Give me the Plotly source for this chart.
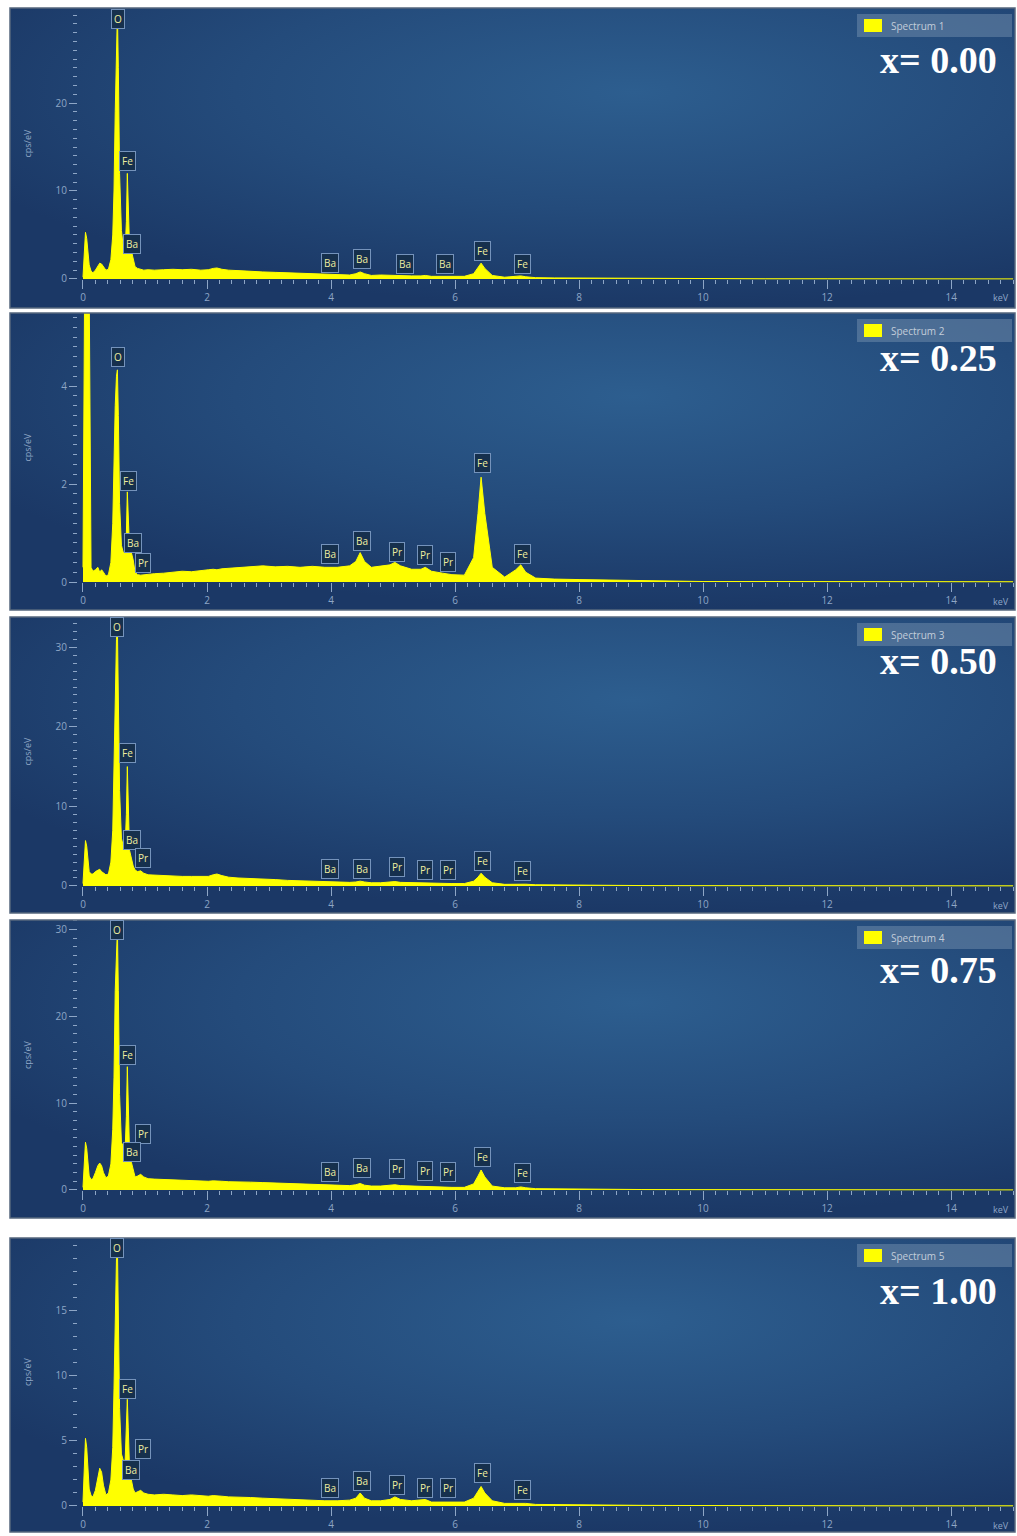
import base64
import plotly.graph_objects as go

W, H = 1017, 1536

# ---------------- data ----------------
energy_keV = [
    0.00, 0.02, 0.04, 0.06, 0.08, 0.10, 0.13, 0.16, 0.20, 0.24,
    0.27, 0.30, 0.33, 0.37, 0.41, 0.45, 0.48, 0.50, 0.52, 0.54,
    0.555, 0.57, 0.59, 0.62, 0.65, 0.68, 0.70, 0.715, 0.73, 0.75,
    0.78, 0.81, 0.84, 0.88, 0.93, 0.98, 1.05, 1.15, 1.30, 1.45,
    1.60, 1.75, 1.90, 2.02, 2.10, 2.16, 2.24, 2.35, 2.50, 2.70,
    2.90, 3.10, 3.30, 3.50, 3.70, 3.90, 4.10, 4.30, 4.40, 4.47,
    4.54, 4.65, 4.80, 4.95, 5.03, 5.12, 5.30, 5.45, 5.52, 5.62,
    5.80, 5.95, 6.15, 6.30, 6.37, 6.42, 6.48, 6.60, 6.80, 6.98,
    7.06, 7.14, 7.30, 7.60, 8.00, 8.50, 9.00, 9.50, 10.0, 11.0,
    12.0, 13.0, 14.0, 15.0,
]

spectrum_1 = [
    0.2, 2.5, 5.3, 4.6, 2.8, 1.6, 0.9, 0.7, 1.0, 1.5,
    1.8, 1.7, 1.4, 1.0, 1.1, 2.2, 5.0, 10.0, 19.0, 27.5,
    30.3, 24.0, 12.0, 5.5, 3.6, 3.4, 6.5, 12.0, 8.0, 3.8,
    3.2, 2.2, 1.4, 1.2, 1.1, 1.0, 1.05, 1.0, 1.05, 1.1,
    1.05, 1.1, 1.0, 1.05, 1.2, 1.25, 1.1, 1.0, 0.95, 0.85,
    0.8, 0.75, 0.7, 0.6, 0.55, 0.5, 0.45, 0.45, 0.6, 0.8,
    0.6, 0.4, 0.45, 0.4, 0.45, 0.4, 0.35, 0.35, 0.4, 0.3,
    0.3, 0.3, 0.3, 0.6, 1.3, 1.8, 1.2, 0.4, 0.2, 0.25,
    0.35, 0.25, 0.15, 0.12, 0.1, 0.07, 0.05, 0.04, 0.03, 0.02,
    0.02, 0.01, 0.01, 0.01,
]

spectrum_2 = [
    0.3, 6.0, 9.0, 9.0, 7.0, 6.0, 0.3, 0.22, 0.25, 0.3,
    0.2, 0.25, 0.2, 0.12, 0.15, 0.4, 1.2, 2.5, 3.6, 4.2,
    4.33, 3.4, 1.6, 0.75, 0.6, 0.6, 1.0, 1.84, 1.3, 0.7,
    0.6, 0.45, 0.2, 0.15, 0.14, 0.15, 0.16, 0.17, 0.18, 0.2,
    0.22, 0.21, 0.24, 0.25, 0.26, 0.25, 0.27, 0.28, 0.3, 0.32,
    0.33, 0.31, 0.32, 0.3, 0.32, 0.3, 0.3, 0.33, 0.42, 0.6,
    0.42, 0.3, 0.32, 0.35, 0.4, 0.33, 0.26, 0.26, 0.3, 0.22,
    0.18, 0.15, 0.14, 0.5, 1.4, 2.14, 1.4, 0.3, 0.1, 0.25,
    0.35, 0.2, 0.08, 0.06, 0.05, 0.04, 0.03, 0.02, 0.01, 0.01,
    0.005, 0.005, 0.005, 0.005,
]

spectrum_3 = [
    0.3, 3.0, 5.7, 5.0, 3.0, 1.8, 1.5, 1.5, 1.8, 2.0,
    2.1, 1.8, 1.6, 1.4, 1.5, 3.0, 7.0, 14.0, 25.0, 31.0,
    32.6, 25.0, 12.0, 6.0, 5.0, 5.0, 9.0, 15.0, 10.0, 4.5,
    3.5, 2.5, 2.0, 1.8, 1.9, 1.6, 1.4, 1.35, 1.3, 1.25,
    1.2, 1.2, 1.15, 1.2, 1.4, 1.5, 1.3, 1.1, 1.0, 0.95,
    0.9, 0.8, 0.7, 0.65, 0.55, 0.5, 0.45, 0.45, 0.5, 0.6,
    0.5, 0.4, 0.4, 0.45, 0.55, 0.45, 0.4, 0.4, 0.4, 0.3,
    0.3, 0.3, 0.3, 0.6, 1.1, 1.6, 1.1, 0.4, 0.2, 0.22,
    0.3, 0.22, 0.15, 0.12, 0.1, 0.07, 0.05, 0.04, 0.03, 0.02,
    0.02, 0.01, 0.01, 0.01,
]

spectrum_4 = [
    0.3, 3.0, 5.5, 4.8, 2.8, 1.6, 1.2, 1.3, 2.0, 2.8,
    3.1, 2.8, 2.0, 1.4, 1.6, 3.0, 7.0, 13.0, 23.0, 28.5,
    30.0, 23.0, 11.0, 5.5, 5.0, 4.8, 8.5, 14.2, 9.0, 4.5,
    3.2, 2.2, 1.5, 1.6, 1.8, 1.5, 1.3, 1.25, 1.2, 1.15,
    1.1, 1.05, 1.0, 1.0, 1.05, 1.0, 1.0, 0.95, 0.95, 0.9,
    0.85, 0.8, 0.7, 0.65, 0.6, 0.55, 0.5, 0.5, 0.6, 0.75,
    0.55, 0.45, 0.45, 0.5, 0.6, 0.5, 0.45, 0.4, 0.45, 0.35,
    0.35, 0.3, 0.3, 0.7, 1.6, 2.3, 1.5, 0.45, 0.25, 0.25,
    0.35, 0.25, 0.15, 0.12, 0.1, 0.07, 0.05, 0.04, 0.03, 0.02,
    0.02, 0.01, 0.01, 0.01,
]

spectrum_5 = [
    0.3, 2.8, 5.2, 4.5, 2.5, 1.3, 0.8, 0.7, 1.2, 2.2,
    2.9, 2.6, 1.6, 0.85, 1.0, 2.0, 4.5, 9.0, 15.5, 19.0,
    20.1, 15.0, 7.5, 4.0, 3.5, 3.5, 5.5, 8.2, 6.0, 3.0,
    2.0, 1.3, 1.0, 1.1, 1.2, 1.0, 0.9, 0.85, 0.9, 0.85,
    0.8, 0.85, 0.8, 0.75, 0.8, 0.8, 0.75, 0.7, 0.7, 0.65,
    0.6, 0.55, 0.5, 0.5, 0.45, 0.4, 0.4, 0.45, 0.6, 1.0,
    0.6, 0.4, 0.4, 0.5, 0.7, 0.5, 0.4, 0.45, 0.5, 0.3,
    0.3, 0.3, 0.3, 0.6, 1.1, 1.5, 1.0, 0.4, 0.2, 0.2,
    0.25, 0.2, 0.12, 0.1, 0.08, 0.06, 0.05, 0.04, 0.03, 0.02,
    0.02, 0.01, 0.01, 0.01,
]

spectrum_names = ["Spectrum 1", "Spectrum 2", "Spectrum 3", "Spectrum 4", "Spectrum 5"]
composition_labels = ["x= 0.00", "x= 0.25", "x= 0.50", "x= 0.75", "x= 1.00"]

# element marker labels: (element, keV, cps/eV)
peak_labels_1 = [("O", 0.56, 29.5), ("Fe", 0.71, 13.4), ("Ba", 0.79, 4.0),
                 ("Ba", 3.98, 1.8), ("Ba", 4.50, 2.3), ("Ba", 5.19, 1.7),
                 ("Ba", 5.84, 1.7), ("Fe", 6.44, 3.2), ("Fe", 7.08, 1.7)]
peak_labels_2 = [("O", 0.56, 4.59), ("Fe", 0.73, 2.06), ("Ba", 0.81, 0.80),
                 ("Pr", 0.97, 0.39), ("Ba", 3.98, 0.57), ("Ba", 4.50, 0.84),
                 ("Pr", 5.06, 0.61), ("Pr", 5.52, 0.55), ("Pr", 5.89, 0.41),
                 ("Fe", 6.44, 2.43), ("Fe", 7.08, 0.57)]
peak_labels_3 = [("O", 0.55, 32.6), ("Fe", 0.71, 16.7), ("Ba", 0.79, 5.8),
                 ("Pr", 0.97, 3.5), ("Ba", 3.98, 2.1), ("Ba", 4.50, 2.1),
                 ("Pr", 5.06, 2.4), ("Pr", 5.52, 2.0), ("Pr", 5.89, 2.0),
                 ("Fe", 6.44, 3.1), ("Fe", 7.08, 1.9)]
peak_labels_4 = [("O", 0.55, 29.9), ("Fe", 0.71, 15.6), ("Pr", 0.97, 6.5),
                 ("Ba", 0.79, 4.4), ("Ba", 3.98, 2.1), ("Ba", 4.50, 2.5),
                 ("Pr", 5.06, 2.4), ("Pr", 5.52, 2.2), ("Pr", 5.89, 2.1),
                 ("Fe", 6.44, 3.8), ("Fe", 7.08, 2.0)]
peak_labels_5 = [("O", 0.55, 19.8), ("Fe", 0.71, 9.0), ("Pr", 0.97, 4.4),
                 ("Ba", 0.77, 2.8), ("Ba", 3.98, 1.4), ("Ba", 4.50, 1.9),
                 ("Pr", 5.06, 1.6), ("Pr", 5.52, 1.4), ("Pr", 5.89, 1.4),
                 ("Fe", 6.44, 2.5), ("Fe", 7.08, 1.2)]

spectra = [spectrum_1, spectrum_2, spectrum_3, spectrum_4, spectrum_5]
peak_labels = [peak_labels_1, peak_labels_2, peak_labels_3, peak_labels_4, peak_labels_5]

x_major_ticks = [0, 2, 4, 6, 8, 10, 12, 14]
y_major_step = [10, 2, 10, 10, 5]
y_major_max = [20, 4, 30, 30, 15]
y_minor_step = [1, 0.2, 1, 1, 1]

# ---------------- layout geometry (pixels) ----------------
panel_top = [8, 313, 617, 920, 1238]
panel_bottom = [308, 610, 913, 1218, 1532]
panel_zero = [279, 582, 886, 1190, 1506]
y_ranges = [[-3.30, 30.8], [-0.571, 5.49], [-3.40, 33.8], [-3.23, 31.1], [-2.0, 20.6]]
text_offset = [52, 45, 44, 50, 53]
x_left, x_right = 10, 1015
x_range = [-1.177, 15.03]

tick_col = "#8ea6c6"
svg = ('<svg xmlns="http://www.w3.org/2000/svg" width="1005" height="300" '
       'viewBox="0 0 1005 300" preserveAspectRatio="none">'
       '<defs><radialGradient id="g" cx="0.62" cy="0.28" r="0.72">'
       '<stop offset="0" stop-color="#2d5e8f"/>'
       '<stop offset="0.55" stop-color="#244b7b"/>'
       '<stop offset="1" stop-color="#1b3866"/>'
       '</radialGradient></defs>'
       '<rect x="0" y="0" width="1005" height="300" fill="url(#g)"/></svg>')
bg_uri = "data:image/svg+xml;base64," + base64.b64encode(svg.encode()).decode()

fig = go.Figure()
layout = dict(width=W, height=H, autosize=False,
              margin=dict(l=0, r=0, t=0, b=0),
              paper_bgcolor="white", plot_bgcolor="rgba(0,0,0,0)",
              showlegend=False, images=[], shapes=[], annotations=[])

for i in range(5):
    n = "" if i == 0 else str(i + 1)
    T, B, Z = panel_top[i], panel_bottom[i], panel_zero[i]
    fig.add_trace(go.Scatter(
        x=energy_keV, y=spectra[i], mode="lines", fill="tozeroy",
        line=dict(color="#ffff00", width=1), fillcolor="#ffff00",
        xaxis="x" + n, yaxis="y" + n, hoverinfo="skip"))

    ymax = y_ranges[i][1]
    ystep = y_major_step[i]
    ymin_step = y_minor_step[i]
    major_vals = [k * ystep for k in range(0, int(y_major_max[i] / ystep) + 1)]
    minor_vals = [round(k * ymin_step, 3) for k in range(0, int(ymax / ymin_step) + 1)]

    layout["xaxis" + n] = dict(
        domain=[x_left / W, x_right / W], range=x_range, anchor="free",
        position=1 - Z / H, showgrid=False, zeroline=False, showline=False,
        tickmode="array", tickvals=x_major_ticks, ticks="outside", ticklen=9,
        tickwidth=1, tickcolor=tick_col,
        tickfont=dict(family="Open Sans", size=10, color=tick_col),
        minor=dict(tickmode="array",
                   tickvals=[round(k * 0.2, 2) for k in range(0, 76)],
                   ticks="outside", ticklen=4, tickwidth=1, tickcolor=tick_col),
        fixedrange=True)
    layout["yaxis" + n] = dict(
        domain=[1 - B / H, 1 - T / H], range=y_ranges[i], anchor="free",
        position=77 / W, showgrid=False, zeroline=False, showline=False,
        tickmode="array", tickvals=major_vals, ticks="outside", ticklen=8,
        tickwidth=1, tickcolor=tick_col,
        tickfont=dict(family="Open Sans", size=10, color=tick_col),
        minor=dict(tickmode="array", tickvals=minor_vals, ticks="outside",
                   ticklen=4, tickwidth=1, tickcolor=tick_col),
        fixedrange=True)

    layout["images"].append(dict(
        source=bg_uri, xref="paper", yref="paper", x=x_left / W, y=1 - T / H,
        sizex=(x_right - x_left) / W, sizey=(B - T) / H, sizing="stretch",
        xanchor="left", yanchor="top", layer="below"))
    layout["shapes"].append(dict(
        type="rect", xref="paper", yref="paper", x0=x_left / W, x1=x_right / W,
        y0=1 - B / H, y1=1 - T / H, line=dict(color="#56677e", width=1.5),
        fillcolor="rgba(0,0,0,0)", layer="above"))

    # legend box
    layout["shapes"].append(dict(
        type="rect", xref="paper", yref="paper", x0=857 / W, x1=1012 / W,
        y0=1 - (T + 29) / H, y1=1 - (T + 6) / H,
        line=dict(color="rgba(0,0,0,0)", width=0),
        fillcolor="rgba(125,150,180,0.45)", layer="above"))
    layout["shapes"].append(dict(
        type="rect", xref="paper", yref="paper", x0=864 / W, x1=882 / W,
        y0=1 - (T + 24) / H, y1=1 - (T + 11) / H,
        line=dict(color="#ffff00", width=0), fillcolor="#ffff00", layer="above"))
    layout["annotations"].append(dict(
        text=spectrum_names[i], xref="paper", yref="paper", x=889 / W,
        y=1 - (T + 17.5) / H, xanchor="left", yanchor="middle", showarrow=False,
        font=dict(family="Open Sans", size=10, color="#c3cdda")))
    # composition text
    layout["annotations"].append(dict(
        text="<b>" + composition_labels[i] + "</b>", xref="paper", yref="paper",
        x=999 / W, y=1 - (T + text_offset[i]) / H, xanchor="right",
        yanchor="middle", showarrow=False,
        font=dict(family="Liberation Serif", size=38, color="white")))
    # axis title and keV unit
    layout["annotations"].append(dict(
        text="cps/eV", xref="paper", yref="paper", x=27 / W,
        y=1 - (T + (Z - T) * 0.5) / H, textangle=-90, showarrow=False,
        xanchor="center", yanchor="middle",
        font=dict(family="Open Sans", size=9, color=tick_col)))
    layout["annotations"].append(dict(
        text="keV", xref="paper", yref="paper", x=1001 / W,
        y=1 - (Z + 19) / H, showarrow=False, xanchor="center", yanchor="middle",
        font=dict(family="Open Sans", size=9, color=tick_col)))
    # element labels
    for el, ex, ey in peak_labels[i]:
        layout["annotations"].append(dict(
            text=el, x=ex, y=ey, xref="x" + n, yref="y" + n, showarrow=False,
            xanchor="center", yanchor="middle", bgcolor="#16304d",
            bordercolor="#7593bb", borderwidth=1, borderpad=2,
            font=dict(family="Open Sans", size=10, color="#eeeea0")))

fig.update_layout(**layout)
fig.write_html("out.html")
